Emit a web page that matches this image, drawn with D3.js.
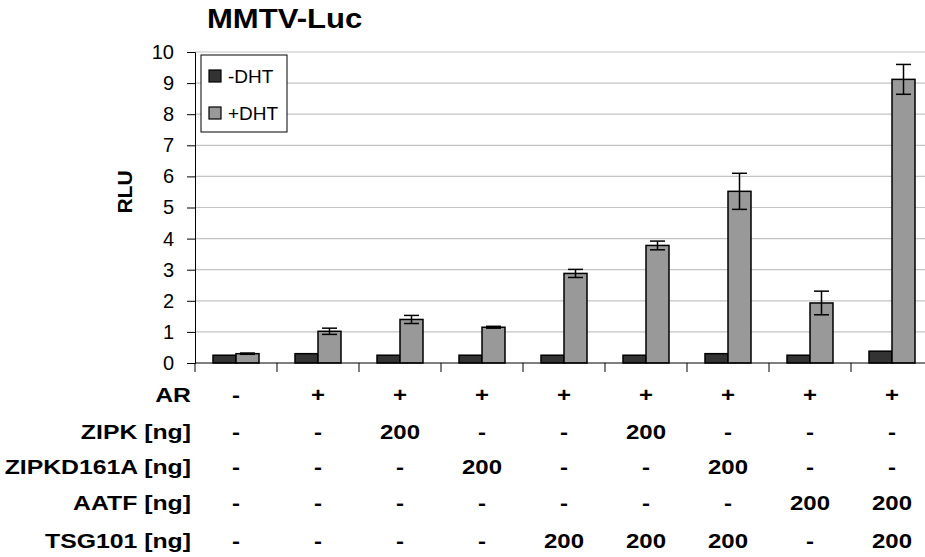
<!DOCTYPE html>
<html>
<head>
<meta charset="utf-8">
<script src="https://cdn.jsdelivr.net/npm/d3@7"></script>
<style>
  html, body { margin: 0; padding: 0; background: #fff; }
  svg { display: block; font-family: "Liberation Sans", Arial, sans-serif; }
</style>
</head>
<body>
<svg id="chart" width="925" height="557"></svg>
<script>
// Luciferase reporter activity per transfection condition
const conditions = ["c1", "c2", "c3", "c4", "c5", "c6", "c7", "c8", "c9"];
const minusDHT = [0.25, 0.3, 0.25, 0.25, 0.25, 0.25, 0.3, 0.25, 0.38];
const plusDHT = [0.3, 1.02, 1.4, 1.15, 2.88, 3.78, 5.52, 1.93, 9.12];
const plusDHTErr = [0.02, 0.1, 0.13, 0.03, 0.13, 0.14, 0.58, 0.38, 0.48];
const yTicks = [0, 1, 2, 3, 4, 5, 6, 7, 8, 9, 10];

// Transfection table under the axis
const rowLabels = ["AR", "ZIPK [ng]", "ZIPKD161A [ng]", "AATF [ng]", "TSG101 [ng]"];
const rowAR = ["-", "+", "+", "+", "+", "+", "+", "+", "+"];
const rowZIPK = ["-", "-", "200", "-", "-", "200", "-", "-", "-"];
const rowZIPKD = ["-", "-", "-", "200", "-", "-", "200", "-", "-"];
const rowAATF = ["-", "-", "-", "-", "-", "-", "-", "200", "200"];
const rowTSG = ["-", "-", "-", "-", "200", "200", "200", "-", "200"];
const tableRows = [rowAR, rowZIPK, rowZIPKD, rowAATF, rowTSG];

(function draw() {
const svg = d3.select("#chart");
const plotLeft = 195, plotRight = 933, plotTop = 52, plotBottom = 363;

const x = d3.scaleBand().domain(conditions).range([plotLeft, plotRight]).padding(0);
const xs = d3.scaleBand().domain(["minus", "plus"]).range([18, 64]).padding(0);
const y = d3.scaleLinear().domain([0, 10]).range([plotBottom, plotTop]);

// Bold label text, widened horizontally around its anchor point
function wideText(parent, px, py, str, opts) {
  const g = parent.append("g").attr("transform", `translate(${px},${py}) scale(${opts.sx},1)`);
  return g.append("text")
    .attr("x", 0).attr("y", 0)
    .attr("text-anchor", opts.anchor || "start")
    .attr("font-size", opts.size)
    .attr("font-weight", "bold")
    .text(str);
}

// Gridlines
svg.append("g")
  .selectAll("line")
  .data(yTicks.filter(d => d > 0))
  .join("line")
  .attr("x1", plotLeft).attr("x2", 925)
  .attr("y1", d => y(d)).attr("y2", d => y(d))
  .attr("stroke", "#c4c4c4").attr("stroke-width", 1.2);

// Y axis
const yAxis = svg.append("g")
  .attr("transform", `translate(${plotLeft},0)`)
  .call(d3.axisLeft(y).tickValues(yTicks).tickSize(8).tickPadding(13).tickFormat(d3.format("d")));
yAxis.select(".domain").attr("stroke", "#000").attr("stroke-width", 1);
yAxis.selectAll(".tick line").attr("stroke", "#000");
yAxis.selectAll("text").attr("font-size", 20).attr("fill", "#000")
  .attr("font-family", "'Liberation Sans', Arial, sans-serif");

// Bars
const bars = svg.append("g");
bars.selectAll("rect.minus")
  .data(conditions)
  .join("rect")
  .attr("class", "minus")
  .attr("x", (d) => x(d) + xs("minus"))
  .attr("width", xs.bandwidth())
  .attr("y", (d, i) => y(minusDHT[i]))
  .attr("height", (d, i) => y(0) - y(minusDHT[i]))
  .attr("fill", "#333333").attr("stroke", "#000").attr("stroke-width", 1.5);

bars.selectAll("rect.plus")
  .data(conditions)
  .join("rect")
  .attr("class", "plus")
  .attr("x", (d) => x(d) + xs("plus"))
  .attr("width", xs.bandwidth())
  .attr("y", (d, i) => y(plusDHT[i]))
  .attr("height", (d, i) => y(0) - y(plusDHT[i]))
  .attr("fill", "#999999").attr("stroke", "#000").attr("stroke-width", 1.5);

// Error bars on +DHT
const err = svg.append("g").attr("stroke", "#000").attr("stroke-width", 1.5);
conditions.forEach((c, i) => {
  const cx = x(c) + xs("plus") + xs.bandwidth() / 2;
  const hi = y(plusDHT[i] + plusDHTErr[i]);
  const lo = y(plusDHT[i] - plusDHTErr[i]);
  err.append("line").attr("x1", cx).attr("x2", cx).attr("y1", hi).attr("y2", lo);
  err.append("line").attr("x1", cx - 7.5).attr("x2", cx + 7.5).attr("y1", hi).attr("y2", hi);
  err.append("line").attr("x1", cx - 7.5).attr("x2", cx + 7.5).attr("y1", lo).attr("y2", lo);
});

// X axis baseline with ticks between categories
svg.append("line")
  .attr("x1", plotLeft).attr("x2", 925).attr("y1", plotBottom).attr("y2", plotBottom)
  .attr("stroke", "#000").attr("stroke-width", 1);
svg.append("g")
  .selectAll("line")
  .data(conditions)
  .join("line")
  .attr("x1", d => x(d)).attr("x2", d => x(d))
  .attr("y1", plotBottom).attr("y2", plotBottom + 9)
  .attr("stroke", "#000").attr("stroke-width", 1);

// Title and axis label
wideText(svg, 207, 28, "MMTV-Luc", { size: 27, sx: 1.15 });
svg.append("text")
  .attr("transform", "translate(132,192) rotate(-90)")
  .attr("text-anchor", "middle")
  .attr("font-size", 21).attr("font-weight", "bold")
  .text("RLU");

// Legend
const lg = svg.append("g");
lg.append("rect")
  .attr("x", 201).attr("y", 55).attr("width", 86).attr("height", 77)
  .attr("fill", "#fff").attr("stroke", "#000").attr("stroke-width", 1);
const legendItems = [["-DHT", "#333333", 76], ["+DHT", "#999999", 113]];
legendItems.forEach(([label, col, cy]) => {
  lg.append("rect")
    .attr("x", 209).attr("y", cy - 6).attr("width", 12).attr("height", 12)
    .attr("fill", col).attr("stroke", "#000").attr("stroke-width", 1.2);
  lg.append("text")
    .attr("x", 228).attr("y", cy + 7)
    .attr("font-size", 19)
    .text(label);
});

// Table of transfected constructs
const rowY = [402, 439, 474, 510, 548];
const tbl = svg.append("g");
rowLabels.forEach((lab, r) => {
  wideText(tbl, 191, rowY[r], lab, { size: 20, sx: 1.24, anchor: "end" });
  tableRows[r].forEach((v, i) => {
    wideText(tbl, x(conditions[i]) + x.bandwidth() / 2, rowY[r], v, { size: 20, sx: 1.2, anchor: "middle" });
  });
});
})();
</script>
</body>
</html>
